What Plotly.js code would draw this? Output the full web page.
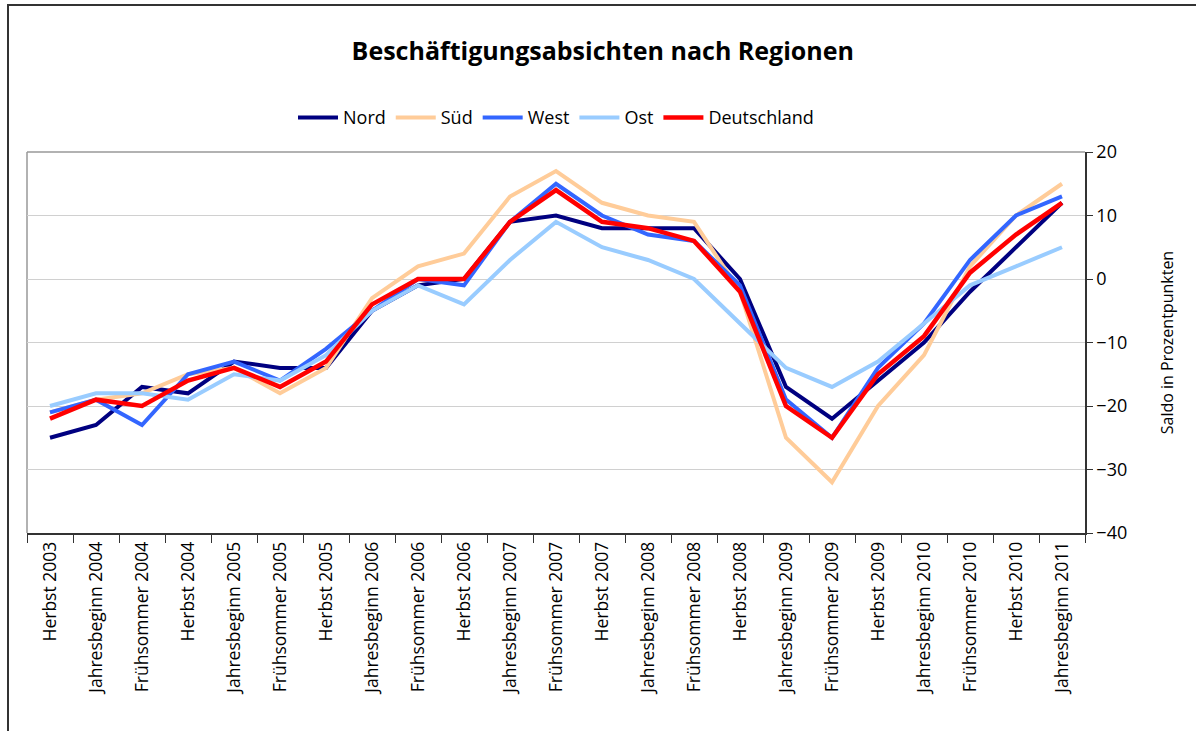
<!DOCTYPE html>
<html>
<head>
<meta charset="utf-8">
<script src="https://cdn.plot.ly/plotly-3.0.1.min.js"></script>
<style>
  html, body { margin: 0; padding: 0; background: #fff; }
  #wrap { position: relative; width: 1196px; height: 731px; overflow: hidden; }
  #frame { position: absolute; left: 7px; top: 4px; width: 1300px; height: 900px;
           border-left: 2px solid #333; border-top: 2px solid #333; pointer-events: none; z-index: 5; }
  #chart { position: absolute; left: 0; top: 0; width: 1196px; height: 731px; }
</style>
</head>
<body>
<div id="wrap">
  <div id="chart"></div>
  <div id="frame"></div>
</div>
<script>
const categories = [
  "Herbst 2003", "Jahresbeginn 2004", "Frühsommer 2004", "Herbst 2004",
  "Jahresbeginn 2005", "Frühsommer 2005", "Herbst 2005", "Jahresbeginn 2006",
  "Frühsommer 2006", "Herbst 2006", "Jahresbeginn 2007", "Frühsommer 2007",
  "Herbst 2007", "Jahresbeginn 2008", "Frühsommer 2008", "Herbst 2008",
  "Jahresbeginn 2009", "Frühsommer 2009", "Herbst 2009", "Jahresbeginn 2010",
  "Frühsommer 2010", "Herbst 2010", "Jahresbeginn 2011"
];
const nord        = [-25,-23,-17,-18,-13,-14,-14,-5,-1,0,9,10,8,8,8,0,-17,-22,-16,-10,-2,5,12];
const sued        = [-21,-19,-18,-15,-14,-18,-14,-3,2,4,13,17,12,10,9,-2,-25,-32,-20,-12,2,10,15];
const west        = [-21,-19,-23,-15,-13,-16,-11,-5,0,-1,9,15,10,7,6,-1,-19,-25,-14,-7,3,10,13];
const ost         = [-20,-18,-18,-19,-15,-16,-12,-5,-1,-4,3,9,5,3,0,-7,-14,-17,-13,-7,-1,2,5];
const deutschland = [-22,-19,-20,-16,-14,-17,-13,-4,0,0,9,14,9,8,6,-2,-20,-25,-15,-9,1,7,12];

const seriesNames = ["Nord", "Süd", "West", "Ost", "Deutschland"];
const seriesData = [nord, sued, west, ost, deutschland];
const seriesColors = ["#000080", "#FFCC99", "#3366FF", "#99CCFF", "#FF0000"];
const seriesWidths = [4, 4, 4, 4, 4.5];

const traces = seriesNames.map((n, i) => ({
  type: "scatter",
  mode: "lines",
  name: n,
  x: categories,
  y: seriesData[i],
  line: { color: seriesColors[i], width: seriesWidths[i] },
  hoverinfo: "x+y+name"
}));

const font = "'Open Sans', 'DejaVu Sans', sans-serif";

const layout = {
  width: 1196,
  height: 731,
  margin: { l: 27, r: 111, t: 152, b: 198 },
  paper_bgcolor: "#ffffff",
  plot_bgcolor: "#ffffff",
  font: { family: font, color: "#000" },
  title: {
    text: "<b>Beschäftigungsabsichten nach Regionen</b>",
    font: { family: font, size: 25, color: "#000" },
    x: 0.504, xref: "container", xanchor: "center",
    y: 0.930, yref: "container", yanchor: "middle"
  },
  showlegend: true,
  legend: {
    orientation: "h",
    x: 0.5, xanchor: "center",
    y: 1.09, yanchor: "middle",
    font: { family: font, size: 18, color: "#000" },
    itemwidth: 40,
    tracegroupgap: 0,
    bgcolor: "rgba(0,0,0,0)"
  },
  xaxis: {
    type: "category",
    categoryorder: "array",
    categoryarray: categories,
    range: [-0.5, 22.5],
    tickson: "boundaries",
    ticks: "outside",
    ticklen: 8,
    tickwidth: 1,
    tickcolor: "#333",
    tickangle: -90,
    tickfont: { family: font, size: 17.5, color: "#000" },
    showline: true,
    linecolor: "#333",
    linewidth: 1.5,
    showgrid: false,
    zeroline: false,
    fixedrange: true
  },
  yaxis: {
    side: "right",
    range: [-40, 20],
    dtick: 10,
    tick0: 0,
    ticks: "outside",
    ticklen: 6,
    tickwidth: 1,
    tickcolor: "#333",
    tickfont: { family: font, size: 18, color: "#000" },
    showline: true,
    linecolor: "#333",
    linewidth: 1.5,
    showgrid: true,
    gridcolor: "#D0D0D0",
    gridwidth: 1,
    zeroline: false,
    title: {
      text: "Saldo in Prozentpunkten",
      font: { family: font, size: 16, color: "#000" },
      standoff: 36
    },
    fixedrange: true
  },
  shapes: [
    { type: "line", xref: "paper", yref: "paper", x0: 0, x1: 1, y0: 1, y1: 1,
      line: { color: "#999", width: 1.5 }, layer: "below" },
    { type: "line", xref: "paper", yref: "paper", x0: 0, x1: 0, y0: 0, y1: 1,
      line: { color: "#999", width: 1.5 }, layer: "below" }
  ]
};

Plotly.newPlot("chart", traces, layout, { displayModeBar: false, staticPlot: false });
</script>
</body>
</html>
